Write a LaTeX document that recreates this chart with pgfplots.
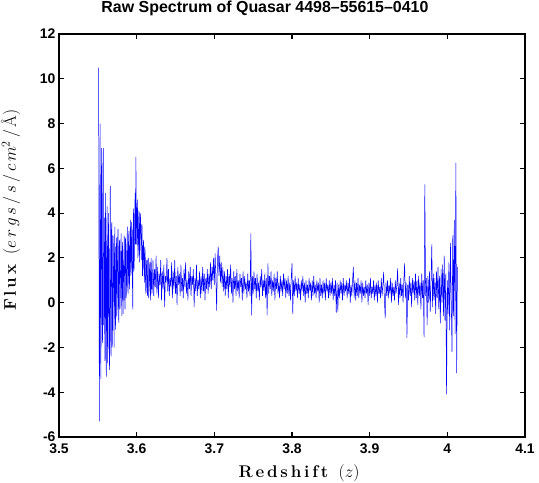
\documentclass[border=0pt]{standalone}
\usepackage{fontspec}
\usepackage{pgfplots}
\pgfplotsset{compat=1.18}
\newfontfamily\helv{Liberation Sans}
\begin{document}
\begin{tikzpicture}
\useasboundingbox (-59bp,-46bp) rectangle (480bp,437bp);
\begin{axis}[
  at={(0,0)}, anchor=south west,
  scale only axis, width=466bp, height=403bp,
  xmin=3.5, xmax=4.1, ymin=-6, ymax=12,
  xtick={3.5,3.6,3.7,3.8,3.9,4.0,4.1},
  xticklabels={3.5,3.6,3.7,3.8,3.9,4,4.1},
  ytick={-6,-4,-2,0,2,4,6,8,10,12},
  yticklabels={-6,-4,-2,0,2,4,6,8,10,12},
  tick align=inside, major tick length=5bp,
  axis line style={line width=1.1pt},
  every tick/.style={black, line width=1.1pt},
  tick label style={font=\fontsize{14}{16}\helv\bfseries},
  xticklabel style={yshift=-3bp},
  /pgf/number format/assume math mode=true,
  title={\fontsize{16}{19}\helv\bfseries Raw Spectrum of Quasar 4498–55615–0410},
  title style={at={(axis description cs:0.442,1)}, anchor=base, yshift=16bp, inner sep=0pt},
  xlabel={\fontsize{17}{20}\selectfont\textbf{R\,e\,d\,s\,h\,i\,f\,t}\ \ $(z)$},
  xlabel style={at={(axis description cs:0.515,0)}, anchor=base, yshift=-40bp, inner sep=0pt},
  ylabel={\fontsize{17}{20}\selectfont\textbf{F\,l\,u\,x}\ \ $(e\,r\,g\,s\,/\,s\,/\,c\,m^2\,/\,\mbox{\AA})$},
  ylabel style={at={(axis description cs:-0.0923,0.563)}, anchor=base, inner sep=0pt},
]
\addplot[color=blue, line width=0.5pt] table {
3.551 10.5
3.5515 2.0
3.552 -5.3
3.5525 1.5
3.553 8.0
3.5535 -2.0
3.554 -3.4
3.5545 5.5
3.555 6.9
3.5555 -0.5
3.556 -1.8
3.5565 4.0
3.557 6.9
3.5575 -1.0
3.558 0.5
3.5585 3.8
3.559 -2.6
3.5595 1.5
3.560 4.9
3.5605 -2.5
3.561 -3.3
3.5615 3.0
3.562 4.3
3.5625 -2.7
3.563 -1.5
3.5635 4.0
3.564 3.0
3.5645 -1.8
3.565 -3.0
3.5655 1.0
3.566 5.2
3.5665 -1.5
3.567 -2.4
3.5675 3.2
3.568 3.6
3.5685 -2.0
3.569 -1.0
3.5695 3.0
3.570 2.5
3.5705 0.0
3.571 -2.0
3.5715 2.6
3.572 3.4
3.5725 -0.8
3.573 -1.2
3.5735 2.2
3.574 2.9
3.5745 -0.6
3.575 0.2
3.5755 2.8
3.576 3.3
3.5765 0.0
3.577 -0.9
3.5775 2.5
3.578 2.8
3.5785 -0.3
3.579 0.4
3.5795 2.3
3.580 3.1
3.5805 0.5
3.581 -0.6
3.5815 2.7
3.582 2.4
3.5825 -0.5
3.583 0.8
3.5835 2.0
3.584 3.0
3.5845 0.3
3.585 -0.3
3.5855 2.9
3.586 2.6
3.5865 0.2
3.587 0.9
3.5875 2.2
3.588 3.4
3.5885 0.7
3.589 0.4
3.5895 2.8
3.590 3.2
3.5905 0.6
3.591 1.0
3.5915 2.9
3.592 3.7
3.5925 1.2
3.593 1.4
3.5935 3.6
3.594 3.3
3.5945 1.0
3.595 -0.3
3.5955 3.0
3.596 4.2
3.5965 1.4
3.597 2.0
3.5975 3.9
3.598 4.9
3.5985 2.6
3.599 6.5
3.5995 4.3
3.600 2.6
3.6005 3.9
3.601 4.6
3.6015 2.0
3.602 2.2
3.6025 3.7
3.603 4.1
3.6035 1.8
3.604 2.9
3.6045 4.0
3.605 3.8
3.6055 2.4
3.606 1.9
3.6065 3.5
3.607 3.4
3.6075 1.2
3.608 1.6
3.6085 2.6
3.609 2.8
3.6095 1.4
3.610 0.9
3.6105 2.5
3.611 2.2
3.6115 0.6
3.612 0.4
3.6125 1.6
3.613 1.9
3.6135 0.8
3.614 0.3
3.6145 1.9
3.615 2.0
3.6155 0.2
3.616 0.6
3.6165 1.5
3.617 1.8
3.6175 0.7
3.618 0.1
3.6185 2.0
3.619 1.6
3.6195 0.4
3.620 0.5
3.621 1.9
3.622 0.3
3.623 1.5
3.624 0.7
3.625 2.1
3.626 0.4
3.627 1.6
3.628 0.2
3.629 1.3
3.630 0.8
3.631 1.9
3.632 0.1
3.633 1.4
3.634 0.6
3.635 1.7
3.636 -0.2
3.637 1.2
3.638 0.9
3.639 2.0
3.640 0.5
3.641 1.5
3.642 0.3
3.643 1.1
3.644 0.7
3.645 1.8
3.646 0.2
3.647 1.4
3.648 0.6
3.649 1.9
3.650 0.4
3.651 1.2
3.652 -0.1
3.653 1.6
3.654 0.8
3.655 1.3
3.656 0.3
3.657 1.7
3.658 0.5
3.659 1.1
3.660 0.2
3.661 1.5
3.662 0.7
3.663 1.8
3.664 0.4
3.665 1.0
3.666 0.1
3.667 1.4
3.668 0.6
3.669 1.6
3.670 0.3
3.671 1.2
3.672 0.8
3.673 1.5
3.674 -0.2
3.675 1.1
3.676 0.5
3.677 1.7
3.678 0.3
3.679 1.0
3.680 0.6
3.681 1.4
3.682 0.2
3.683 1.2
3.684 0.4
3.685 1.6
3.686 0.5
3.687 1.3
3.688 0.1
3.689 1.1
3.690 0.6
3.691 1.5
3.692 0.4
3.693 1.3
3.694 0.7
3.695 1.8
3.696 0.6
3.697 1.6
3.698 1.0
3.699 2.0
3.700 0.8
3.701 2.2
3.702 1.1
3.703 -0.35
3.704 1.9
3.705 2.5
3.706 1.2
3.707 2.1
3.708 0.9
3.709 1.8
3.710 0.7
3.711 1.6
3.712 0.5
3.713 1.4
3.714 0.3
3.715 1.2
3.716 0.6
3.717 1.5
3.718 0.2
3.719 1.3
3.720 0.7
3.721 1.7
3.722 0.4
3.723 1.1
3.724 0.0
3.725 1.4
3.726 0.6
3.727 1.2
3.728 0.3
3.729 1.5
3.730 0.5
3.731 1.0
3.732 0.2
3.733 1.3
3.734 0.7
3.735 1.1
3.736 0.1
3.737 1.4
3.738 0.4
3.739 1.2
3.740 0.6
3.741 0.9
3.742 0.2
3.743 1.3
3.744 0.5
3.745 1.0
3.746 0.3
3.747 3.1
3.748 -0.57
3.749 1.2
3.750 0.4
3.751 1.4
3.752 0.6
3.753 1.1
3.754 0.2
3.755 1.3
3.756 0.5
3.757 0.9
3.758 0.1
3.759 1.2
3.760 0.7
3.761 1.5
3.762 0.3
3.763 1.0
3.764 0.5
3.765 1.3
3.766 0.2
3.767 1.1
3.768 -0.57
3.769 1.75
3.770 0.4
3.771 1.2
3.772 0.6
3.773 1.4
3.774 0.3
3.775 1.0
3.776 0.5
3.777 1.3
3.778 0.1
3.779 1.1
3.780 0.6
3.781 1.4
3.782 0.4
3.783 0.9
3.784 0.2
3.785 1.2
3.786 0.5
3.787 1.0
3.788 0.3
3.789 1.3
3.790 0.6
3.791 1.1
3.792 0.2
3.793 1.0
3.794 0.4
3.795 1.2
3.796 0.3
3.797 0.9
3.798 0.1
3.799 1.1
3.800 1.75
3.801 -0.5
3.802 1.0
3.803 0.3
3.804 1.2
3.805 0.5
3.806 0.9
3.807 0.2
3.808 1.1
3.809 0.4
3.810 0.8
3.811 0.1
3.812 1.0
3.813 0.5
3.814 1.2
3.815 0.3
3.816 0.9
3.817 0.0
3.818 1.0
3.819 0.4
3.820 0.8
3.821 0.2
3.822 1.1
3.823 0.5
3.824 0.9
3.825 0.1
3.826 1.0
3.827 0.3
3.828 1.2
3.829 0.4
3.830 0.8
3.831 0.2
3.832 1.0
3.833 0.5
3.834 0.9
3.835 0.0
3.836 1.1
3.837 0.3
3.838 0.8
3.839 0.2
3.840 1.0
3.841 0.4
3.842 0.9
3.843 0.1
3.844 1.1
3.845 0.5
3.846 0.8
3.847 0.2
3.848 1.0
3.849 0.3
3.850 0.9
3.851 0.4
3.852 1.1
3.853 0.1
3.854 0.8
3.855 0.3
3.856 1.0
3.857 -0.45
3.858 0.9
3.859 -0.4
3.860 0.8
3.861 0.2
3.862 1.0
3.863 0.4
3.864 0.9
3.865 0.1
3.866 1.1
3.867 0.3
3.868 0.8
3.869 0.5
3.870 1.0
3.871 0.2
3.872 0.9
3.873 0.4
3.874 1.1
3.875 0.0
3.876 0.8
3.877 0.3
3.878 1.0
3.879 1.6
3.880 0.2
3.881 1.0
3.882 0.1
3.883 0.9
3.884 0.3
3.885 1.1
3.886 0.2
3.887 0.8
3.888 0.4
3.889 1.0
3.890 0.0
3.891 0.9
3.892 0.3
3.893 0.7
3.894 0.2
3.895 1.0
3.896 0.4
3.897 0.8
3.898 -0.1
3.899 0.9
3.900 0.3
3.901 1.1
3.902 0.2
3.903 0.7
3.904 0.4
3.905 1.0
3.906 0.1
3.907 0.8
3.908 0.3
3.909 0.9
3.910 0.0
3.911 1.0
3.912 0.4
3.913 0.7
3.914 0.2
3.915 1.1
3.916 0.3
3.917 0.8
3.918 1.37
3.919 0.1
3.920 -0.7
3.921 0.9
3.922 0.3
3.923 1.0
3.924 0.2
3.925 0.8
3.926 0.4
3.927 1.1
3.928 0.0
3.929 0.9
3.930 0.3
3.931 0.7
3.932 0.1
3.933 1.0
3.934 0.4
3.935 0.8
3.936 1.53
3.937 -0.1
3.938 0.9
3.939 0.2
3.940 1.1
3.941 0.3
3.942 0.8
3.943 0.0
3.944 1.0
3.945 1.75
3.946 0.2
3.947 0.9
3.948 -1.57
3.949 0.8
3.950 0.1
3.951 1.2
3.952 0.3
3.953 0.9
3.954 -0.2
3.955 1.1
3.956 0.4
3.957 1.0
3.958 0.1
3.959 1.3
3.960 0.2
3.961 1.0
3.962 -0.1
3.963 1.2
3.964 0.3
3.965 0.9
3.966 -0.3
3.967 1.3
3.968 0.2
3.969 1.0
3.970 -1.54
3.971 5.28
3.972 0.3
3.973 1.1
3.974 -1.0
3.975 1.2
3.976 0.0
3.977 1.4
3.978 -0.4
3.979 1.0
3.980 2.6
3.981 -0.2
3.982 1.3
3.983 0.1
3.984 1.1
3.985 -0.5
3.986 1.4
3.987 0.2
3.988 1.6
3.989 -0.3
3.990 1.2
3.991 -0.93
3.992 1.5
3.993 0.0
3.994 1.7
3.995 -0.6
3.996 2.1
3.997 -0.8
3.998 1.3
3.999 -4.1
4.000 1.0
4.001 -0.5
4.002 1.8
4.003 -1.24
4.004 2.67
4.005 0.2
4.006 -2.2
4.007 3.0
4.008 -0.6
4.009 3.7
4.010 -1.4
4.011 6.25
4.012 -3.15
4.013 1.6
};
\end{axis}
\end{tikzpicture}
\end{document}
